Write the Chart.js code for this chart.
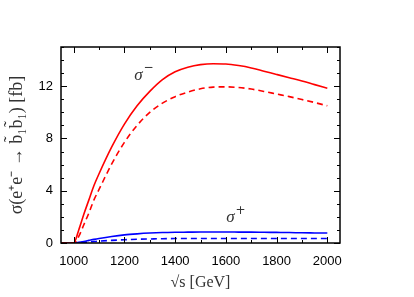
<!DOCTYPE html>
<html lang="en">
<head>
<meta charset="UTF-8">
<title>Sbottom pair production</title>
<script src="https://cdn.jsdelivr.net/npm/chart.js"></script>
<style>
  html, body { margin: 0; padding: 0; background: #fff; }
  #wrap { width: 414px; height: 297px; }
</style>
</head>
<body>
<div id="wrap"><canvas id="xsecChart" width="414" height="297"></canvas></div>
<script>
// sqrt(s) in GeV
const energies = [950, 1000, 1020, 1040, 1060, 1080, 1100, 1150, 1200, 1250, 1300, 1350, 1400,
                  1450, 1500, 1550, 1600, 1650, 1700, 1750, 1800, 1850, 1900, 1950, 2000];
// cross sections in fb
const sigmaMinus     = [0, 0, 1.0, 2.2, 3.3, 4.4, 5.3, 7.35, 9.1, 10.5, 11.6, 12.5, 13.1,
                        13.45, 13.65, 13.72, 13.7, 13.58, 13.4, 13.15, 12.9, 12.65, 12.4, 12.12, 11.85];
const sigmaMinusDash = [0, 0, 0.5, 1.4, 2.3, 3.3, 4.1, 6.05, 7.7, 9.0, 10.0, 10.7, 11.2,
                        11.55, 11.8, 11.93, 11.95, 11.9, 11.78, 11.6, 11.4, 11.2, 10.98, 10.75, 10.5];
const sigmaPlus      = [0, 0, 0.05, 0.12, 0.2, 0.28, 0.35, 0.5, 0.62, 0.7, 0.76, 0.8, 0.82,
                        0.83, 0.84, 0.84, 0.84, 0.835, 0.83, 0.82, 0.81, 0.8, 0.78, 0.77, 0.76];
const sigmaPlusDash  = [0, 0, 0.02, 0.05, 0.08, 0.11, 0.14, 0.2, 0.25, 0.29, 0.31, 0.33, 0.34,
                        0.345, 0.35, 0.35, 0.35, 0.35, 0.35, 0.35, 0.345, 0.345, 0.34, 0.34, 0.34];

const xTicks = [1000, 1100, 1200, 1300, 1400, 1500, 1600, 1700, 1800, 1900, 2000];
const xLabels = [1000, 1200, 1400, 1600, 1800, 2000];
const yLabels = [0, 4, 8, 12];
const curveLabels = [
  { text: 'σ', sup: '−', x: 1262, y: 12.85 },
  { text: 'σ', sup: '+', x: 1625, y: 1.95 }
];

const pts = (vals) => energies.map((e, i) => ({ x: e, y: vals[i] }));

function line(label, vals, color, dashed) {
  return {
    label: label,
    data: pts(vals),
    borderColor: color,
    borderWidth: 1.6,
    borderDash: dashed ? [6, 4] : [],
    pointRadius: 0,
    fill: false,
    cubicInterpolationMode: 'monotone'
  };
}

// gnuplot style: inward ticks on all four sides, plus a closed frame
const frameTicks = {
  id: 'frameTicks',
  afterDraw(chart) {
    const { ctx, chartArea: a, scales: { x, y } } = chart;
    ctx.save();
    ctx.strokeStyle = '#000';
    ctx.lineWidth = 1;
    ctx.beginPath();
    x.ticks.forEach(t => {
      const px = Math.round(x.getPixelForValue(t.value)) + 0.5;
      const len = xLabels.includes(t.value) ? 6 : 3;
      ctx.moveTo(px, a.bottom); ctx.lineTo(px, a.bottom - len);
      ctx.moveTo(px, a.top); ctx.lineTo(px, a.top + len);
    });
    y.ticks.forEach(t => {
      const py = Math.round(y.getPixelForValue(t.value)) + 0.5;
      const len = yLabels.includes(t.value) ? 6 : 3;
      ctx.moveTo(a.left, py); ctx.lineTo(a.left + len, py);
      ctx.moveTo(a.right, py); ctx.lineTo(a.right - len, py);
    });
    ctx.stroke();
    ctx.lineWidth = 1.5;
    ctx.strokeRect(a.left, a.top, a.right - a.left, a.bottom - a.top);

    // curve labels
    ctx.fillStyle = '#333';
    ctx.textBaseline = 'middle';
    curveLabels.forEach(l => {
      const px = x.getPixelForValue(l.x), py = y.getPixelForValue(l.y);
      ctx.font = 'italic 17px "Liberation Serif"';
      ctx.fillText(l.text, px - 6, py);
      const w = ctx.measureText(l.text).width;
      ctx.font = '12px "DejaVu Sans"';
      ctx.fillText(l.sup, px - 6 + w + 1, py - 7);
    });
    ctx.restore();
  }
};

new Chart(document.getElementById('xsecChart'), {
  type: 'line',
  data: {
    datasets: [
      line('σ− full', sigmaMinus, '#ff0000', false),
      line('σ− dashed', sigmaMinusDash, '#ff0000', true),
      line('σ+ full', sigmaPlus, '#0000ff', false),
      line('σ+ dashed', sigmaPlusDash, '#0000ff', true)
    ]
  },
  options: {
    responsive: false,
    animation: false,
    layout: { padding: { top: 47, right: 74, left: 0, bottom: 0 } },
    plugins: { legend: { display: false }, tooltip: { enabled: false } },
    scales: {
      x: {
        type: 'linear',
        min: 950,
        max: 2050,
        afterBuildTicks: s => { s.ticks = xTicks.map(v => ({ value: v })); },
        afterFit: s => { s.height = 54; },
        grid: { display: false, drawTicks: false },
        border: { display: false },
        ticks: {
          autoSkip: false,
          maxRotation: 0,
          padding: 11,
          color: '#000',
          font: { family: 'Liberation Sans', size: 13 },
          callback: v => xLabels.includes(v) ? String(v) : ''
        },
        title: {
          display: true,
          text: '√s [GeV]',
          color: '#333',
          font: { family: 'Liberation Serif', size: 16 },
          padding: { top: 0, bottom: 5 }
        }
      },
      y: {
        min: 0,
        max: 15,
        afterFit: s => { s.width = 61; },
        grid: { display: false, drawTicks: false },
        border: { display: false },
        ticks: {
          stepSize: 1,
          autoSkip: false,
          padding: 8,
          color: '#000',
          font: { family: 'Liberation Sans', size: 13 },
          callback: v => yLabels.includes(v) ? String(v) : ''
        },
        title: {
          display: true,
          text: 'σ(e\u207Ae\u207B \u2192 b\u0303\u2081b\u0303\u2081) [fb]',
          color: '#333',
          font: { family: 'Liberation Serif', size: 18 },
          padding: { top: 6, bottom: 0 }
        }
      }
    }
  },
  plugins: [frameTicks]
});
</script>
</body>
</html>
